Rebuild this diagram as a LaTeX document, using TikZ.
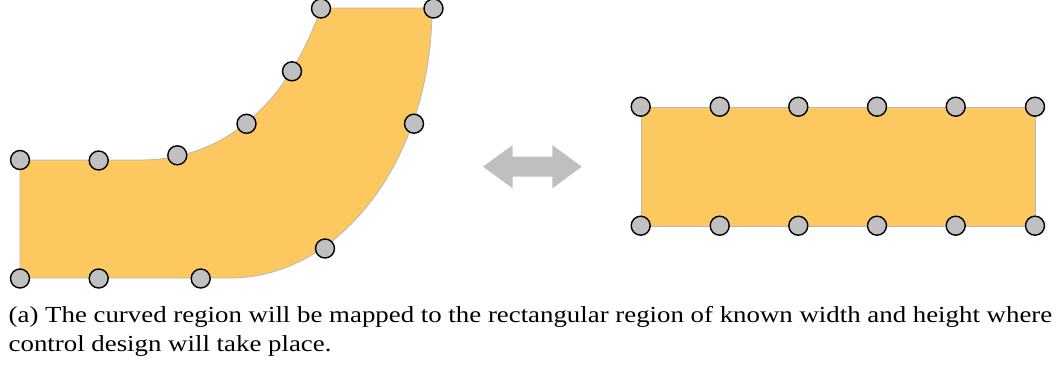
\documentclass[tikz,border=0pt]{standalone}
\usepackage{fontspec}
\setmainfont{Liberation Serif}
\definecolor{regionfill}{HTML}{FCC85F}
\definecolor{regionedge}{HTML}{B8B8B8}
\definecolor{dotfill}{HTML}{C0C0C0}
\definecolor{arrowgray}{HTML}{BFBFBF}
\tikzset{
  region/.style={fill=regionfill, draw=regionedge, line width=0.8pt},
  dot/.style={circle, fill=dotfill, draw=black, line width=1.4pt, minimum size=19pt, inner sep=0pt},
  captext/.style={anchor=base west, inner sep=0pt, font=\fontsize{23}{29}\selectfont}
}
\begin{document}
\begin{tikzpicture}[x=1pt,y=-1pt]
\useasboundingbox (0,0) rectangle (1060,370);
% curved region
\draw[region] (20,278) -- (20,160) -- (140,160)
  .. controls (220,160) and (285,110) .. (321,8) -- (432,8)
  .. controls (432,157) and (341.6,278) .. (230,278) -- cycle;
% rectangular region
\draw[region] (641,107) rectangle (1035,226);
% double arrow
\fill[arrowgray] (483,166.7) -- (512.7,145) -- (512.7,156.7) -- (552.3,156.7) -- (552.3,145)
  -- (581.7,166.7) -- (552.3,188.4) -- (552.3,176.7) -- (512.7,176.7) -- (512.7,188.4) -- cycle;
% control points on curved region
\node[dot] (c1) at (20,160) {};
\node[dot] (c2) at (98.7,160.5) {};
\node[dot] (c3) at (177.3,155.3) {};
\node[dot] (c4) at (246.5,123.8) {};
\node[dot] (c5) at (292,71.3) {};
\node[dot] (c6) at (321,8.5) {};
\node[dot] (c7) at (433.5,8.5) {};
\node[dot] (c8) at (414,123.7) {};
\node[dot] (c9) at (325,248.5) {};
\node[dot] (c10) at (200.7,278.5) {};
\node[dot] (c11) at (98.7,278.5) {};
\node[dot] (c12) at (20,278.5) {};
% control points on rectangle
\foreach \i/\x in {1/640.7,2/719.7,3/798.3,4/877,5/955.7,6/1035}{
  \node[dot] (t\i) at (\x,106.7) {};
  \node[dot] (b\i) at (\x,225.7) {};
}
% caption
\node[captext] (cap1) at (8.5,322.3) {\scalebox{1.167}[1]{(a) The curved region will be mapped to the rectangular region of known width and height where}};
\node[captext] (cap2) at (8.5,351.7) {\scalebox{1.167}[1]{control design will take place.}};
\end{tikzpicture}
\end{document}
